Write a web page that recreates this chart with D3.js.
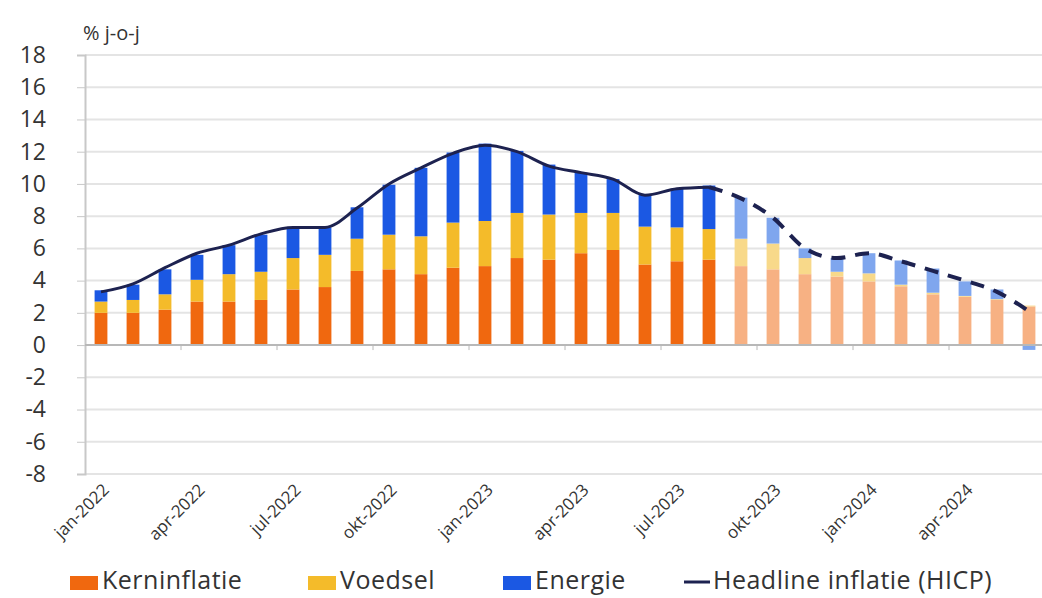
<!DOCTYPE html>
<html>
<head>
<meta charset="utf-8">
<script src="https://cdn.jsdelivr.net/npm/d3@7"></script>
<style>
  body { margin: 0; background: #fff; }
  text { font-family: "Open Sans", "Noto Sans", sans-serif; }
</style>
</head>
<body>
<div id="chart"></div>
<script>
var svgWidth = 1042;
var svgHeight = 598;

// months jan-2022 .. jun-2024
var months = ["jan-2022","feb-2022","mrt-2022","apr-2022","mei-2022","jun-2022","jul-2022","aug-2022","sep-2022","okt-2022","nov-2022","dec-2022",
  "jan-2023","feb-2023","mrt-2023","apr-2023","mei-2023","jun-2023","jul-2023","aug-2023","sep-2023","okt-2023","nov-2023","dec-2023",
  "jan-2024","feb-2024","mrt-2024","apr-2024","mei-2024","jun-2024"];
var tickLabels = ["jan-2022","apr-2022","jul-2022","okt-2022","jan-2023","apr-2023","jul-2023","okt-2023","jan-2024","apr-2024"];

var kern = [2.0, 2.0, 2.2, 2.7, 2.7, 2.8, 3.45, 3.6, 4.6, 4.7, 4.4, 4.8, 4.9, 5.4, 5.3, 5.7, 5.9, 5.0, 5.2, 5.3,
  4.9, 4.7, 4.4, 4.25, 3.95, 3.65, 3.15, 3.0, 2.8, 2.4];
var voedsel = [0.7, 0.8, 0.95, 1.35, 1.7, 1.75, 1.95, 2.0, 2.0, 2.15, 2.35, 2.8, 2.8, 2.8, 2.8, 2.5, 2.3, 2.35, 2.1, 1.9,
  1.7, 1.6, 1.0, 0.3, 0.5, 0.1, 0.1, 0.05, 0.05, 0.05];
var energie = [0.7, 0.95, 1.55, 1.55, 1.8, 2.3, 1.9, 1.7, 1.95, 3.1, 4.25, 4.35, 4.8, 3.85, 3.1, 2.5, 2.1, 2.0, 2.4, 2.7,
  2.55, 1.6, 0.6, 0.85, 1.25, 1.5, 1.5, 0.9, 0.6, -0.3];
var headline = [3.3, 3.8, 4.8, 5.7, 6.2, 6.9, 7.3, 7.3, 8.5, 10.0, 11.0, 11.9, 12.4, 12.0, 11.1, 10.7, 10.3, 9.3, 9.7, 9.8,
  9.1, 7.9, 6.0, 5.4, 5.7, 5.2, 4.6, 4.0, 3.3, 2.1];
var lastActual = "aug-2023";

var yTicks = d3.range(-8, 19, 2);

var margin = { top: 55, left: 85 };
var plotRight = 1045;
var plotBottom = 474;

var svg = d3.select("#chart").append("svg")
  .attr("width", svgWidth)
  .attr("height", svgHeight);

var x = d3.scaleBand().domain(months).range([margin.left, plotRight]).paddingInner(0.6).paddingOuter(0.3);
var y = d3.scaleLinear().domain([-8, 18]).range([plotBottom, margin.top]);

// gridlines
svg.append("g").selectAll("line").data(yTicks).enter().append("line")
  .attr("x1", margin.left).attr("x2", svgWidth)
  .attr("y1", d => y(d)).attr("y2", d => y(d))
  .attr("stroke", "#e4e4e4").attr("stroke-width", 2);

// y axis (hyphen minus like the original)
var leftAxis = d3.axisLeft(y).tickValues(yTicks).tickSize(8).tickPadding(31)
  .tickFormat(d => String(d));
var gy = svg.append("g").attr("transform", `translate(${margin.left},0)`).call(leftAxis);
gy.select(".domain").attr("stroke", "#c8c8c8").attr("stroke-width", 2);
gy.selectAll(".tick line").attr("stroke", "#c8c8c8");
gy.selectAll("text").attr("font-size", 23).attr("fill", "#333");

svg.append("text").attr("x", 83).attr("y", 40).attr("font-size", 20).attr("fill", "#333").text("% j-o-j");

// stacked bars
var rows = months.map((m, i) => ({ month: m, kern: kern[i], voedsel: voedsel[i], energie: energie[i], fc: i > months.indexOf(lastActual) }));
var keys = ["kern", "voedsel", "energie"];
var colors = { kern: "#f0680f", voedsel: "#f4bb2a", energie: "#1b58e3" };
var light = { kern: "#f7b183", voedsel: "#f8d98a", energie: "#7fa6ee" };

rows.forEach(function(d) {
  var pos = 0, neg = 0;
  d.segs = keys.map(function(k) {
    var v = d[k];
    var s;
    if (v >= 0) { s = { key: k, y0: pos, y1: pos + v }; pos += v; }
    else { s = { key: k, y0: neg + v, y1: neg }; neg += v; }
    return s;
  });
});

var bw = x.bandwidth();
var barGroups = svg.append("g").selectAll("g").data(rows).enter().append("g");
barGroups.selectAll("rect").data(d => d.segs.map(s => Object.assign({ month: d.month, fc: d.fc }, s))).enter()
  .append("rect")
  .attr("x", d => x(d.month))
  .attr("width", bw)
  .attr("y", d => y(d.y1))
  .attr("height", d => Math.max(0, y(d.y0) - y(d.y1)))
  .attr("fill", d => d.fc ? light[d.key] : colors[d.key]);

// zero line
svg.append("line").attr("x1", margin.left).attr("x2", svgWidth)
  .attr("y1", y(0)).attr("y2", y(0)).attr("stroke", "#b8b8b8").attr("stroke-width", 2);

// headline line
var cx = m => x(m) + bw / 2;
var line = d3.line().x(d => cx(d.month)).y(d => y(d.v)).curve(d3.curveMonotoneX);
var pts = months.map((m, i) => ({ month: m, v: headline[i] }));
var split = months.indexOf(lastActual);
svg.append("path").datum(pts.slice(0, split + 1)).attr("d", line)
  .attr("fill", "none").attr("stroke", "#1d2250").attr("stroke-width", 3);
svg.append("path").datum(pts.slice(split)).attr("d", line)
  .attr("fill", "none").attr("stroke", "#1d2250").attr("stroke-width", 4).attr("stroke-dasharray", "14,10");

// x axis ticks every 3 months on band boundaries
var tickMonths = months.filter((m, i) => i % 3 === 0 && i > 0);
svg.append("g").selectAll("line").data(tickMonths).enter().append("line")
  .attr("x1", d => x(d) - x.step() * 0.3).attr("x2", d => x(d) - x.step() * 0.3)
  .attr("y1", y(0)).attr("y2", y(0) + 5).attr("stroke", "#b8b8b8");

svg.append("g").selectAll("text").data(tickLabels).enter().append("text")
  .attr("transform", d => `translate(${cx(d) + 9},${plotBottom + 17}) rotate(-45)`)
  .attr("text-anchor", "end")
  .attr("font-size", 17)
  .attr("fill", "#333")
  .text(d => d);

// legend
var legend = [
  { label: "Kerninflatie", color: colors.kern, x: 70, type: "rect" },
  { label: "Voedsel", color: colors.voedsel, x: 308, type: "rect" },
  { label: "Energie", color: colors.energie, x: 503, type: "rect" },
  { label: "Headline inflatie (HICP)", color: "#1d2250", x: 684, type: "line" }
];
var lg = svg.append("g").selectAll("g").data(legend).enter().append("g")
  .attr("transform", d => `translate(${d.x},0)`);
lg.filter(d => d.type === "rect").append("rect")
  .attr("x", 0).attr("y", 576).attr("width", 28).attr("height", 14).attr("fill", d => d.color);
lg.filter(d => d.type === "line").append("line")
  .attr("x1", 0).attr("x2", 26).attr("y1", 582).attr("y2", 582).attr("stroke", d => d.color).attr("stroke-width", 3);
lg.append("text").attr("x", d => d.type === "line" ? 29 : 32).attr("y", 589)
  .attr("font-size", 25).attr("letter-spacing", 0.5).attr("fill", "#333").text(d => d.label);
</script>
</body>
</html>
